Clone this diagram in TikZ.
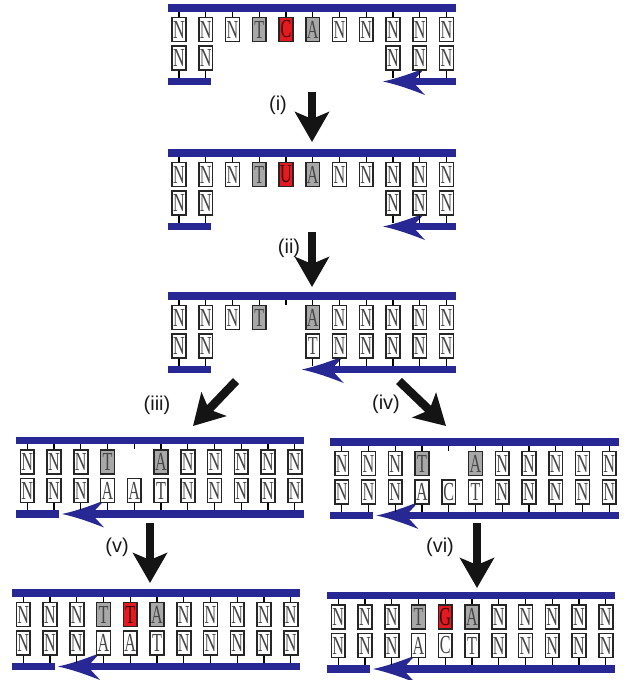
\documentclass[tikz,border=0pt]{standalone}
\usepackage{fontspec}
\usepackage{graphicx}
\usetikzlibrary{arrows.meta}
\newfontfamily\labfont{Liberation Sans}
\newfontfamily\basefont{Liberation Serif}
\definecolor{dnablue}{RGB}{40,40,148}
\definecolor{basered}{RGB}{228,26,32}
\definecolor{basegray}{RGB}{168,168,168}
\definecolor{lettergray}{RGB}{70,70,70}
\newcommand\lt[1]{\scalebox{0.62}[1]{\basefont\fontsize{26}{26}\selectfont #1}}
\tikzset{
  base/.style={rectangle, draw=black!85, line width=1.6pt, inner sep=0pt,
    minimum width=13.8pt, minimum height=24pt, text=lettergray},
  bw/.style={fill=white},
  bg/.style={fill=basegray},
  br/.style={fill=basered, text=black!75!basered},
  barnode/.style={rectangle, fill=dnablue, inner sep=0pt, minimum height=7.5pt},
  tick/.style={draw=black, line width=1.3pt},
  primer/.style={draw=dnablue, line width=7.5pt},
  bigarrow/.style={draw=black!92, line width=8.5pt,
    -{Stealth[length=30pt,width=34pt,inset=7pt]}},
  steplab/.style={font=\labfont\fontsize{20}{20}\selectfont, text=black!90},
  phead/.pic={\fill[dnablue] (0,0) .. controls (14,-3) and (28,-8) .. (42,-13.5)
     -- (33,-3.75) -- (33,3.75) -- (42,13.5) .. controls (28,8) and (14,3) .. (0,0) -- cycle;}
}
% #1 name, #2 shift, #3 row1, #4 row2, #5 primer tip x
\newcommand\dnapanel[5]{%
\begin{scope}[shift={#2}]
  \node[barnode, minimum width=288.5pt] (#1top) at (132.75,0) {};
  \node[barnode, minimum width=43.25pt] (#1bl) at (10.125,73.5) {};
  \coordinate (#1tip) at (#5,73.5);
  \coordinate (#1end) at (277,73.5);
  \draw[primer] ([xshift=30pt]#1tip) -- (#1end);
  \pic at (#1tip) {phead};
  \foreach \i/\l/\s in {#3} {
    \node[base,\s] (#1a\i) at ({(\i-1)*26.75},21.5) {\lt{\l}};
    \draw[tick] (#1a\i.north) -- (#1a\i.north |- #1top.south);
  }
  \foreach \i/\l/\s in {#4} {
    \node[base,\s] (#1b\i) at ({(\i-1)*26.75},50) {\lt{\l}};
    \draw[tick] (#1b\i.south) -- (#1b\i.south |- #1bl.north);
  }
\end{scope}}
\begin{document}
\begin{tikzpicture}[x=1pt,y=-1pt]
\useasboundingbox (0,0) rectangle (629,680);
\dnapanel{p1}{(179,8)}
 {1/N/bw,2/N/bw,3/N/bw,4/T/bg,5/C/br,6/A/bg,7/N/bw,8/N/bw,9/N/bw,10/N/bw,11/N/bw}
 {1/N/bw,2/N/bw,9/N/bw,10/N/bw,11/N/bw}{204}
\dnapanel{p2}{(179,153)}
 {1/N/bw,2/N/bw,3/N/bw,4/T/bg,5/U/br,6/A/bg,7/N/bw,8/N/bw,9/N/bw,10/N/bw,11/N/bw}
 {1/N/bw,2/N/bw,9/N/bw,10/N/bw,11/N/bw}{204}
\dnapanel{p3}{(179,296)}
 {1/N/bw,2/N/bw,3/N/bw,4/T/bg,6/A/bg,7/N/bw,8/N/bw,9/N/bw,10/N/bw,11/N/bw}
 {1/N/bw,2/N/bw,6/T/bw,7/N/bw,8/N/bw,9/N/bw,10/N/bw,11/N/bw}{122.75}
\dnapanel{p4}{(27.3,440.5)}
 {1/N/bw,2/N/bw,3/N/bw,4/T/bg,6/A/bg,7/N/bw,8/N/bw,9/N/bw,10/N/bw,11/N/bw}
 {1/N/bw,2/N/bw,3/N/bw,4/A/bw,5/A/bw,6/T/bw,7/N/bw,8/N/bw,9/N/bw,10/N/bw,11/N/bw}{34.75}
\dnapanel{p5}{(341.7,442)}
 {1/N/bw,2/N/bw,3/N/bw,4/T/bg,6/A/bg,7/N/bw,8/N/bw,9/N/bw,10/N/bw,11/N/bw}
 {1/N/bw,2/N/bw,3/N/bw,4/A/bw,5/C/bw,6/T/bw,7/N/bw,8/N/bw,9/N/bw,10/N/bw,11/N/bw}{34.75}
\dnapanel{p6}{(23.3,593)}
 {1/N/bw,2/N/bw,3/N/bw,4/T/bg,5/T/br,6/A/bg,7/N/bw,8/N/bw,9/N/bw,10/N/bw,11/N/bw}
 {1/N/bw,2/N/bw,3/N/bw,4/A/bw,5/A/bw,6/T/bw,7/N/bw,8/N/bw,9/N/bw,10/N/bw,11/N/bw}{34.75}
\dnapanel{p7}{(338.3,595.5)}
 {1/N/bw,2/N/bw,3/N/bw,4/T/bg,5/G/br,6/A/bg,7/N/bw,8/N/bw,9/N/bw,10/N/bw,11/N/bw}
 {1/N/bw,2/N/bw,3/N/bw,4/A/bw,5/C/bw,6/T/bw,7/N/bw,8/N/bw,9/N/bw,10/N/bw,11/N/bw}{34.75}
% gap stubs
\foreach \p/\x/\y in {p3/286/296, p4/134.3/440.5, p5/448.7/442}{
  \coordinate (\p stub) at (\x,\y+8.75);
  \draw[tick] (\p stub) -- (\p stub |- \p top.south);
}
% step arrows
\coordinate (ai1) at (312,92);   \coordinate (ai2) at (312,142);
\coordinate (aii1) at (312,232); \coordinate (aii2) at (312,287);
\coordinate (aiii1) at (236,381); \coordinate (aiii2) at (193,426);
\coordinate (aiv1) at (399,381); \coordinate (aiv2) at (446,426);
\coordinate (av1) at (150,523);  \coordinate (av2) at (150,583);
\coordinate (avi1) at (477,523); \coordinate (avi2) at (477,588);
\draw[bigarrow] (ai1) -- (ai2);
\draw[bigarrow] (aii1) -- (aii2);
\draw[bigarrow] (aiii1) -- (aiii2);
\draw[bigarrow] (aiv1) -- (aiv2);
\draw[bigarrow] (av1) -- (av2);
\draw[bigarrow] (avi1) -- (avi2);
\node[steplab] (li) at (278,105) {(i)};
\node[steplab] (lii) at (289,248) {(ii)};
\node[steplab] (liii) at (157,405) {(iii)};
\node[steplab] (liv) at (386,404) {(iv)};
\node[steplab] (lv) at (117,547) {(v)};
\node[steplab] (lvi) at (440,547) {(vi)};
\end{tikzpicture}
\end{document}
